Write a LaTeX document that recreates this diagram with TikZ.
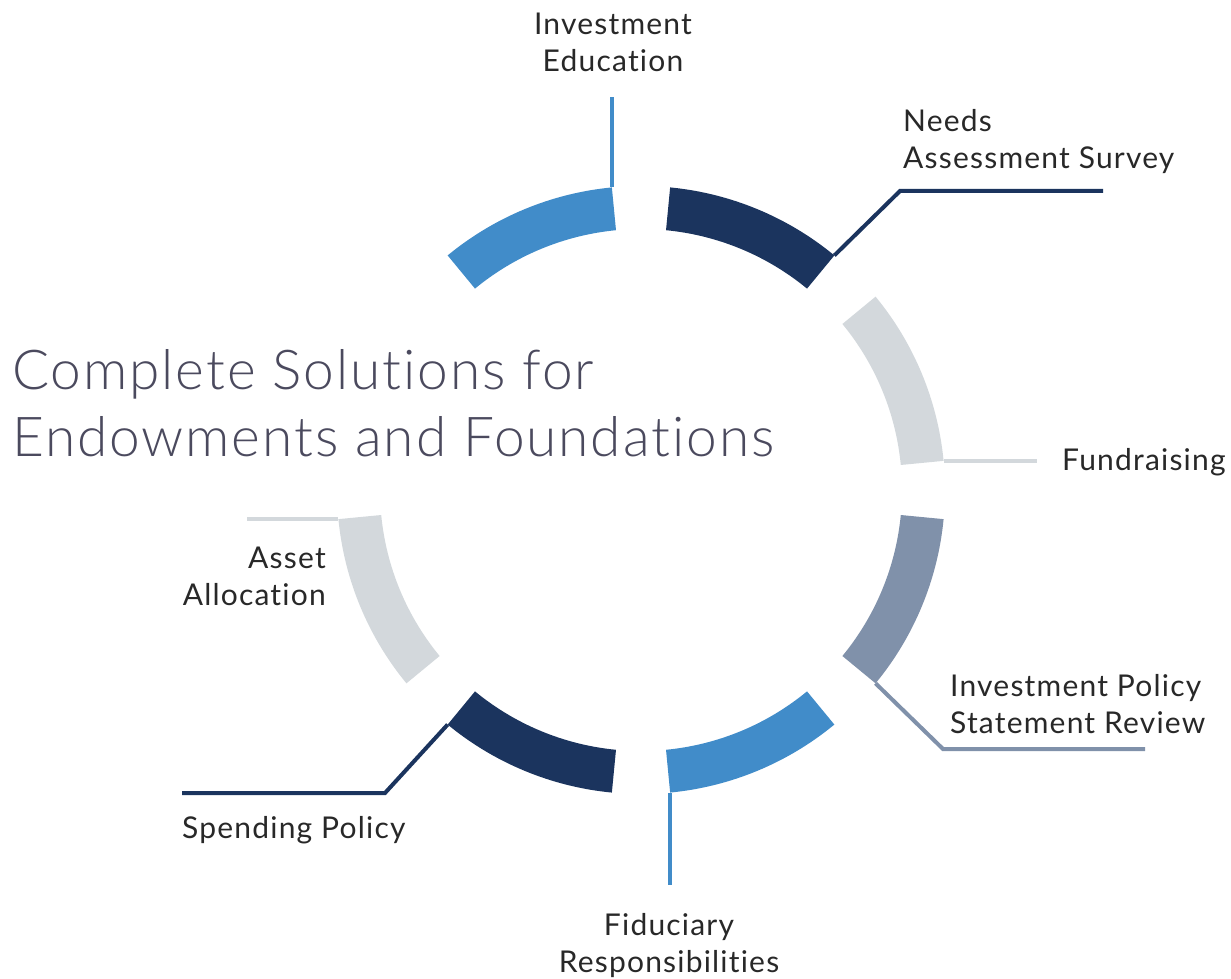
\documentclass[tikz,border=0pt]{standalone}
\usepackage{fontspec}
\setmainfont{Lato}[Ligatures=CommonOff,LetterSpace=4]
\newfontfamily\lightfont{Lato Light}[Ligatures=CommonOff,LetterSpace=3.5]
\definecolor{ringblue}{RGB}{65,140,201}
\definecolor{ringnavy}{RGB}{27,52,94}
\definecolor{ringgray}{RGB}{211,216,220}
\definecolor{ringslate}{RGB}{128,145,170}
\definecolor{labeltext}{RGB}{40,40,40}
\definecolor{titletext}{RGB}{75,74,94}
\begin{document}
\begin{tikzpicture}[line join=miter,x=1pt,y=1pt,
    lead/.style={line width=4pt},
    lbl/.style={inner sep=0pt,text=labeltext,font=\fontsize{30}{37}\selectfont}]
		\useasboundingbox (0,0) rectangle (1231,978);
		\coordinate (c) at (641,488);
		% ring, one segment missing at 157.5
		\foreach \m/\col in {22.5/ringgray,67.5/ringnavy,112.5/ringblue,202.5/ringgray,247.5/ringnavy,292.5/ringblue,337.5/ringslate}
		  \fill[\col] ([shift={({\m-17}:304)}]c) arc[start angle=\m-17,end angle=\m+17,radius=304]
		    -- ([shift={({\m+17}:261)}]c) arc[start angle=\m+17,end angle=\m-17,radius=261] -- cycle;
		\coordinate (ieA) at ([shift={(95.5:304)}]c);
		\coordinate (ieB) at (ieA |- 0,881);
		\coordinate (nsA) at ([shift={(50.5:304)}]c);
		\coordinate (nsB) at (900,787);
		\coordinate (nsC) at (1103,787);
		\coordinate (frA) at ([shift={(5.5:304)}]c);
		\coordinate (frB) at (1037,0 |- frA);
		\coordinate (ipA) at ([shift={(-39.5:304)}]c);
		\coordinate (ipB) at (943,229);
		\coordinate (ipC) at (1145,229);
		\coordinate (fiA) at ([shift={(-84.5:304)}]c);
		\coordinate (fiB) at (fiA |- 0,93);
		\coordinate (spA) at ([shift={(230.5:304)}]c);
		\coordinate (spB) at (385,185);
		\coordinate (spC) at (182,185);
		\coordinate (aaA) at ([shift={(185.5:304)}]c);
		\coordinate (aaB) at (247,0 |- aaA);
		\draw[lead,ringblue] (ieA) -- (ieB);
		\draw[lead,ringnavy] (nsA) -- (nsB) -- (nsC);
		\draw[lead,ringgray] (frA) -- (frB);
		\draw[lead,ringslate] (ipA) -- (ipB) -- (ipC);
		\draw[lead,ringblue] (fiA) -- (fiB);
		\draw[lead,ringnavy] (spA) -- (spB) -- (spC);
		\draw[lead,ringgray] (aaA) -- (aaB);
		% labels (base = last line)
		\node[lbl,anchor=base,align=center] (ie) at (613,906) {Investment\\Education};
		\node[lbl,anchor=base west,align=left] (ns) at (903,809) {Needs\\Assessment Survey};
		\node[lbl,anchor=base west] (fr) at (1062,507) {Fundraising};
		\node[lbl,anchor=base west,align=left] (ip) at (950,245) {Investment Policy\\Statement Review};
		\node[lbl,anchor=base,align=center] (fi) at (669,6) {Fiduciary\\Responsibilities};
		\node[lbl,anchor=base west] (sp) at (182,140) {Spending Policy};
		\node[lbl,anchor=base east,align=right] (aa) at (326,372) {Asset\\Allocation};
		\node[anchor=base west,inner sep=0pt,align=left,text=titletext,
		  font=\lightfont\fontsize{55}{67}\selectfont] (title) at (12,521) {Complete Solutions for\\Endowments and Foundations};
		\end{tikzpicture}
\end{document}
